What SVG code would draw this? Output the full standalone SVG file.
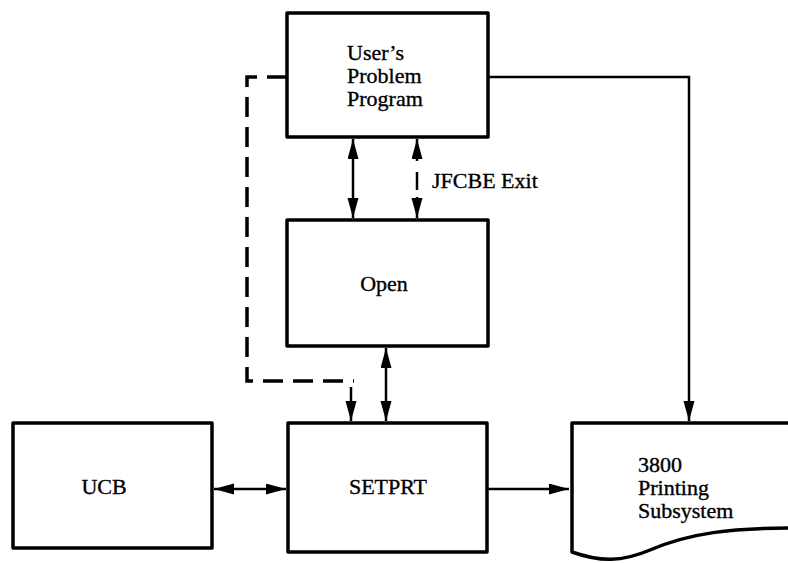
<svg xmlns="http://www.w3.org/2000/svg" width="788" height="563" viewBox="0 0 788 563">
<defs>
<marker id="ah" markerUnits="userSpaceOnUse" markerWidth="22" markerHeight="12" refX="20" refY="5.5" orient="auto-start-reverse">
<path d="M0,0 L20,5.5 L0,11 Z" fill="#000"/>
</marker>
<style>
.box{fill:#fff;stroke:#000;stroke-width:3.5;stroke-linejoin:round}
.ln{fill:none;stroke:#000;stroke-width:2.5}
.dash{fill:none;stroke:#000;stroke-width:3.5;stroke-dasharray:20 10}
text{font-family:"Liberation Serif","Times New Roman",serif;font-size:22px;fill:#000;stroke:#000;stroke-width:0.35}
</style>
</defs>
<rect width="788" height="563" fill="#fff"/>
<g id="connectors">
<path class="dash" d="M287,77 H247 V381 H354"/>
<line class="ln" x1="351" y1="387" x2="351" y2="421" marker-end="url(#ah)"/>
<line class="ln" x1="353" y1="139" x2="353" y2="218" marker-start="url(#ah)" marker-end="url(#ah)"/>
<line class="ln" x1="417" y1="139" x2="417" y2="161" marker-start="url(#ah)"/>
<line class="ln" x1="417" y1="172" x2="417" y2="190"/>
<line class="ln" x1="417" y1="197" x2="417" y2="218" marker-end="url(#ah)"/>
<line class="ln" x1="386" y1="348" x2="386" y2="421" marker-start="url(#ah)" marker-end="url(#ah)"/>
<path class="ln" d="M488,77 H689 V421" marker-end="url(#ah)"/>
<line class="ln" x1="214" y1="489" x2="286" y2="489" marker-start="url(#ah)" marker-end="url(#ah)"/>
<line class="ln" x1="488" y1="489" x2="569" y2="489" marker-end="url(#ah)"/>
</g>
<g id="user">
<rect class="box" x="287" y="13" width="201" height="124"/>
<text x="347" y="60">User’s</text>
<text x="347" y="83">Problem</text>
<text x="347" y="106">Program</text>
</g>
<text x="432" y="188">JFCBE Exit</text>
<g id="open">
<rect class="box" x="287" y="220" width="201" height="126"/>
<text x="384" y="291" text-anchor="middle">Open</text>
</g>
<g id="ucb">
<rect class="box" x="13" y="423" width="199" height="125"/>
<text x="104" y="494" text-anchor="middle">UCB</text>
</g>
<g id="setprt">
<rect class="box" x="288" y="423" width="199" height="129"/>
<text x="388" y="494" text-anchor="middle">SETPRT</text>
</g>
<g id="printer">
<path class="box" d="M795,423 H572 V552 C600,562 622,562 650,550 C690,533 730,528 795,528"/>
<text x="638" y="472">3800</text>
<text x="638" y="495">Printing</text>
<text x="638" y="518">Subsystem</text>
</g>
</svg>
